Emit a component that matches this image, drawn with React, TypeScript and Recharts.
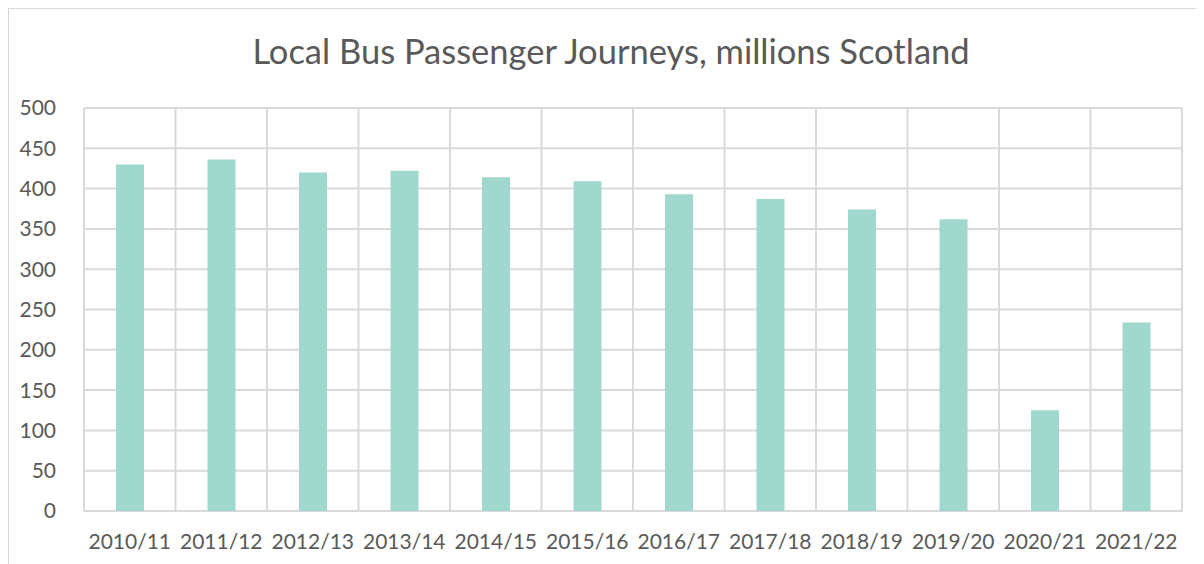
import { BarChart, Bar, XAxis, YAxis, CartesianGrid } from 'recharts';

const years = [
  '2010/11', '2011/12', '2012/13', '2013/14', '2014/15', '2015/16',
  '2016/17', '2017/18', '2018/19', '2019/20', '2020/21', '2021/22',
];
const journeys = [430, 436, 420, 422, 414, 409, 393, 387, 374, 362, 125, 234];
const yTicks = [0, 50, 100, 150, 200, 250, 300, 350, 400, 450, 500];

const data = years.map((year, i) => ({ year, journeys: journeys[i] }));

const font = 'Lato, "Open Sans", sans-serif';
const textColor = '#595959';
const gridColor = '#d9d9d9';

// vertical gridlines sit on the category boundaries, not on the tick centres
const categoryBoundaries = ({ offset }: any) => {
  const step = offset.width / years.length;
  return [...years.map((_, i) => offset.left + i * step), offset.left + offset.width];
};

export default function App() {
  return (
    <div
      style={{
        position: 'relative',
        width: 1196,
        height: 556,
        borderTop: `1px solid ${gridColor}`,
        borderLeft: `1px solid ${gridColor}`,
        fontFamily: font,
        background: '#fff',
      }}
    >
      <div
        style={{
          position: 'absolute',
          top: 21,
          left: 0,
          width: 1204,
          textAlign: 'center',
          fontSize: 34.5,
          color: textColor,
          lineHeight: 'normal',
        }}
      >
        Local Bus Passenger Journeys, millions Scotland
      </div>
      <BarChart
        width={1195}
        height={555}
        data={data}
        margin={{ top: 99, right: 22, bottom: 0, left: 0 }}
      >
        <CartesianGrid
          stroke={gridColor}
          strokeWidth={2}
          verticalCoordinatesGenerator={categoryBoundaries}
        />
        <XAxis
          dataKey="year"
          axisLine={false}
          tickLine={false}
          tickMargin={17}
          height={53}
          interval={0}
          tick={{ fill: textColor, fontSize: 21, fontFamily: font }}
        />
        <YAxis
          domain={[0, 500]}
          ticks={yTicks}
          axisLine={false}
          tickLine={false}
          tickMargin={22}
          width={75}
          tick={{ fill: textColor, fontSize: 21, fontFamily: font }}
        />
        <Bar
          dataKey="journeys"
          fill="#a0d8cd"
          barSize={28}
          isAnimationActive={false}
        />
      </BarChart>
    </div>
  );
}
